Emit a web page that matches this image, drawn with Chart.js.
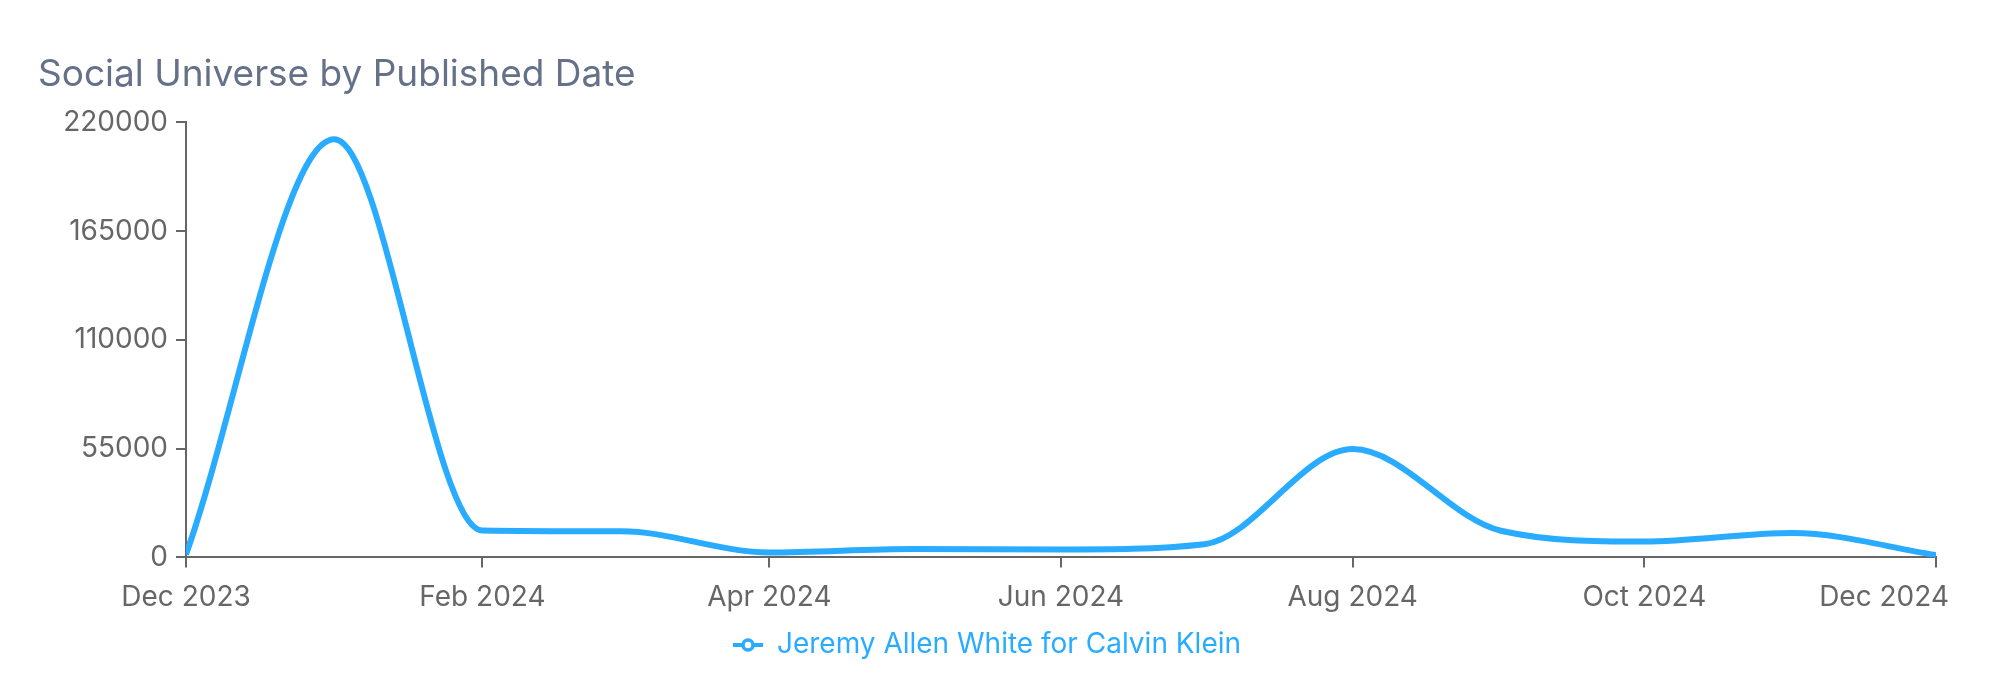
<!DOCTYPE html>
<html>
<head>
<meta charset="utf-8">
<title>Social Universe by Published Date</title>
<script src="https://cdn.jsdelivr.net/npm/chart.js@4"></script>
<style>
    html, body { margin: 0; padding: 0; background: #fff; }
    #wrap { width: 1999px; height: 683px; position: relative; }
</style>
</head>
<body>
<div id="wrap"><canvas id="chart"></canvas></div>
<script>
    // ── Data ─────────────────────────────────────────────────────────────────
    var chartTitle = 'Social Universe by Published Date';
    var seriesName = 'Jeremy Allen White for Calvin Klein';

    var months = ['2023-12-01', '2024-01-01', '2024-02-01', '2024-03-01', '2024-04-01', '2024-05-01', '2024-06-01',
                  '2024-07-01', '2024-08-01', '2024-09-01', '2024-10-01', '2024-11-01', '2024-12-01'];
    var universe = [1500, 211500, 13600, 13200, 2500, 4300, 4000, 6700, 54800, 13500, 8000, 12300, 1200];

    var tickDates  = ['2023-12-01', '2024-02-01', '2024-04-01', '2024-06-01', '2024-08-01', '2024-10-01', '2024-12-01'];
    var tickLabels = ['Dec 2023', 'Feb 2024', 'Apr 2024', 'Jun 2024', 'Aug 2024', 'Oct 2024', 'Dec 2024'];
    var yTicks     = [0, 55000, 110000, 165000, 220000];

    // ── Styles ───────────────────────────────────────────────────────────────
    var BLUE  = '#29acff';
    var AXIS  = '#666666';
    var FONT  = 'Inter, "Noto Sans", sans-serif';

    // legend icon: short line with hollow circle
    function legendIcon() {
        var c = document.createElement('canvas');
        c.width = 30; c.height = 14;
        var g = c.getContext('2d');
        g.strokeStyle = BLUE;
        g.lineWidth = 4;
        g.beginPath(); g.moveTo(0, 7); g.lineTo(30, 7); g.stroke();
        g.fillStyle = '#fff';
        g.lineWidth = 3.5;
        g.beginPath(); g.arc(15, 7, 5, 0, Math.PI * 2); g.fill(); g.stroke();
        return c;
    }

    // last x label sits shifted left, inside the plot edge
    var lastLabelPlugin = {
        id: 'lastLabel',
        afterDraw: function (chart) {
            var s = chart.scales.x;
            var items = s.getLabelItems();
            if (!items.length) return;
            var ref = items[0];
            var ctx = chart.ctx;
            ctx.save();
            ctx.font = ref.font.string;
            ctx.fillStyle = AXIS;
            ctx.textAlign = 'right';
            ctx.textBaseline = ref.options.textBaseline;
            ctx.fillText(tickLabels[tickLabels.length - 1], chart.chartArea.right + 13,
                         ref.options.translation[1] + ref.textOffset);
            ctx.restore();
        }
    };

    var points = months.map(function (m, i) { return { x: Date.parse(m), y: universe[i] }; });
    var lastTick = tickDates.length - 1;

    new Chart(document.getElementById('chart'), {
        type: 'line',
        data: {
            datasets: [{
                label: seriesName,
                data: points,
                borderColor: BLUE,
                backgroundColor: BLUE,
                borderWidth: 6,
                pointRadius: 0,
                cubicInterpolationMode: 'monotone',
                fill: false,
            }]
        },
        options: {
            responsive: true,
            maintainAspectRatio: false,
            animation: false,
            layout: { padding: { left: 38, right: 63, top: 0, bottom: 14 } },
            plugins: {
                title: {
                    display: true,
                    text: chartTitle,
                    align: 'start',
                    color: '#647189',
                    font: { family: FONT, size: 37, weight: 'normal' },
                    padding: { top: 53, bottom: 25 },
                },
                legend: {
                    position: 'bottom',
                    labels: {
                        usePointStyle: true,
                        pointStyleWidth: 30,
                        color: BLUE,
                        font: { family: FONT, size: 28 },
                        padding: 4,
                        generateLabels: function () {
                            return [{
                                text: seriesName, fontColor: BLUE, pointStyle: legendIcon(),
                                fillStyle: BLUE, strokeStyle: BLUE, lineWidth: 0, hidden: false, datasetIndex: 0,
                            }];
                        }
                    }
                },
                tooltip: { enabled: false },
            },
            scales: {
                x: {
                    type: 'linear',
                    min: Date.parse(tickDates[0]),
                    max: Date.parse(tickDates[lastTick]),
                    afterBuildTicks: function (s) {
                        s.ticks = tickDates.map(function (d) { return { value: Date.parse(d) }; });
                    },
                    ticks: {
                        autoSkip: false, maxRotation: 0, color: AXIS, padding: 13,
                        font: { family: FONT, size: 28 },
                        callback: function (v, i) { return i === lastTick ? '' : tickLabels[i]; },
                    },
                    grid: { drawOnChartArea: false, tickLength: 10, color: AXIS, lineWidth: 2 },
                    border: { color: AXIS, width: 2 },
                },
                y: {
                    min: yTicks[0],
                    max: yTicks[yTicks.length - 1],
                    afterBuildTicks: function (s) {
                        s.ticks = yTicks.map(function (v) { return { value: v }; });
                    },
                    afterFit: function (s) { s.width = 148; },
                    ticks: {
                        color: AXIS, padding: 8,
                        font: { family: FONT, size: 28 },
                        callback: function (v) { return String(v); },
                    },
                    grid: { drawOnChartArea: false, tickLength: 10, color: AXIS, lineWidth: 2 },
                    border: { color: AXIS, width: 2 },
                }
            }
        },
        plugins: [lastLabelPlugin]
    });
</script>
</body>
</html>
